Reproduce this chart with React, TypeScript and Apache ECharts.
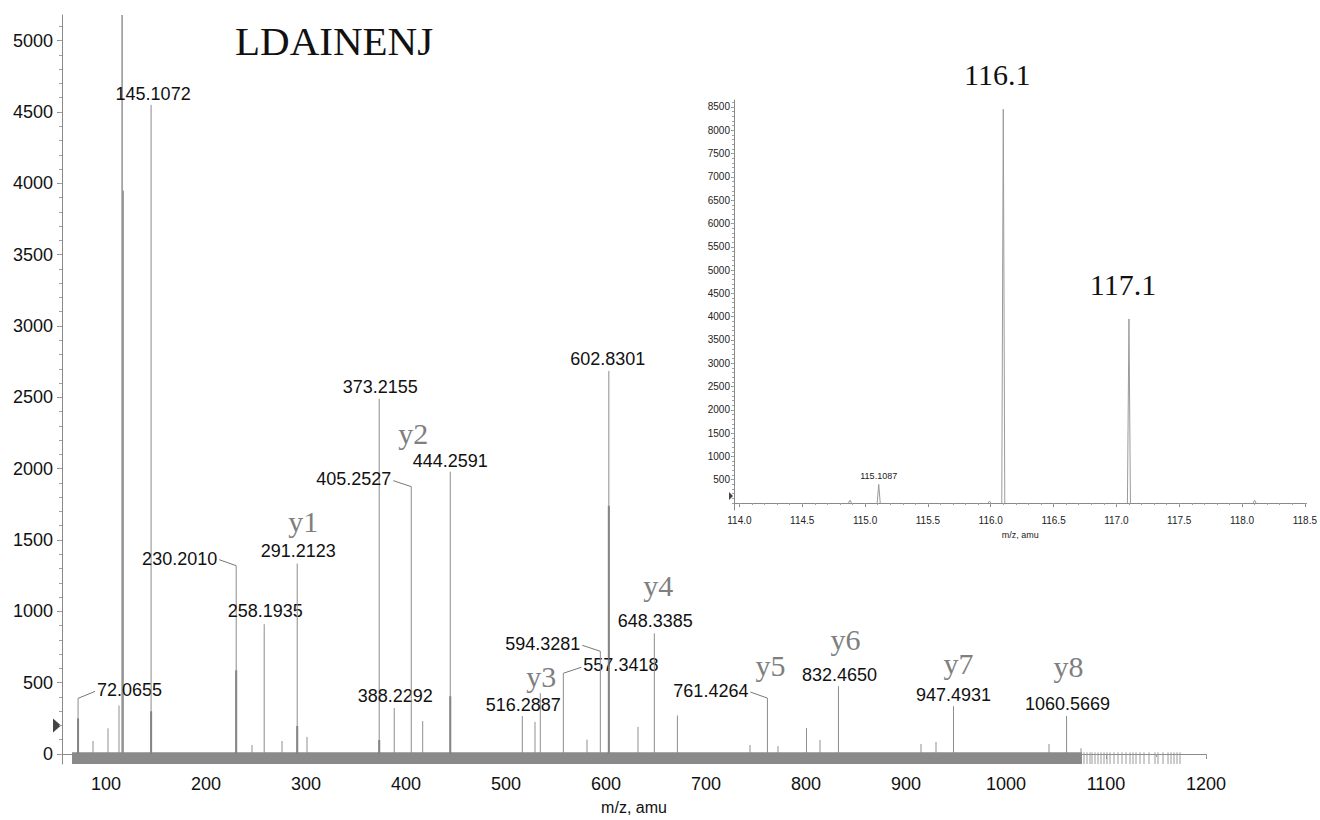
import React, { useEffect, useRef } from "react";
import * as echarts from "echarts";

const SANS = "'Liberation Sans', Arial, Helvetica, sans-serif";
const SERIF = "'Liberation Serif', 'Times New Roman', serif";

// ---- data -------------------------------------------------------------
const peptide = "LDAINENJ";

const mainXTicks = [100, 200, 300, 400, 500, 600, 700, 800, 900, 1000, 1100, 1200];
const mainYTicks = [0, 500, 1000, 1500, 2000, 2500, 3000, 3500, 4000, 4500, 5000];

// labelled fragment peaks (m/z, intensity in counts)
const labelledMz = [
  72.0655, 145.1072, 230.201, 258.1935, 291.2123, 373.2155, 388.2292, 405.2527, 444.2591,
  516.2887, 557.3418, 594.3281, 602.8301, 648.3385, 761.4264, 832.465, 947.4931, 1060.5669,
];
const labelledIntensity = [
  390, 4550, 1320, 910, 1335, 2490, 322, 1874, 1979, 266, 566, 720, 2685, 846, 392, 475, 335, 266,
];

// y-ion series assignments
const yIonNames = ["y1", "y2", "y3", "y4", "y5", "y6", "y7", "y8"];
const yIonMz = [291.2123, 405.2527, 557.3418, 648.3385, 761.4264, 832.465, 947.4931, 1060.5669];

// iTRAQ reporter ions
const reporterMz = [116.1, 117.1];
const reporterIntensity = [8450, 3950];

// unlabelled minor peaks
const minorMz = [87, 102, 113, 246, 276, 301, 416.7, 529, 534.3, 581, 632, 671.4, 744, 772, 800.5, 814, 915, 930, 1043, 1075];
const minorIntensity = [91, 180, 340, 63, 91, 120, 231, 225, 427, 100, 190, 270, 63, 55, 182, 98, 70, 84, 70, 40];

// darker centroid bodies under the profile apexes
const bodyMz = [72.0655, 145.1072, 230.201, 291.2123, 373.2155, 444.2591, 602.8301];
const bodyIntensity = [250, 300, 587, 196, 98, 405, 1740];

// baseline noise
const noiseBandMz = [66, 1076];
const noiseBandLevel = 12;
const sparseNoiseMz = [
  1078, 1081, 1084, 1086, 1089, 1092, 1095, 1098, 1101, 1104, 1108, 1112, 1116, 1120, 1124,
  1127, 1130, 1134, 1138, 1143, 1149, 1152, 1157, 1162, 1165, 1168, 1171, 1174,
];
const mainThreshold = 200;

// inset: reporter region
const insetXTicks = [114.0, 114.5, 115.0, 115.5, 116.0, 116.5, 117.0, 117.5, 118.0, 118.5];
const insetYTicks = [500, 1000, 1500, 2000, 2500, 3000, 3500, 4000, 4500, 5000, 5500, 6000, 6500, 7000, 7500, 8000, 8500];
const insetMinorMz = [114.88, 115.1087, 115.99, 118.1];
const insetMinorIntensity = [60, 400, 40, 60];
const insetThreshold = 150;

// ---- axis ranges --------------------------------------------------------
const MAIN_X_MIN = 56;
const MAIN_X_MAX = 1200;
const MAIN_Y_MIN = -70;
const MAIN_Y_MAX = 5180;
const INSET_X_MIN = 113.957;
const INSET_X_MAX = 118.513;
const INSET_Y_MIN = -150;
const INSET_Y_MAX = 8650;

const mainXMinorTicks = Array.from({ length: 23 }, (_, i) => 100 + i * 50);
const mainYMinorTicks = Array.from({ length: 52 }, (_, i) => i * 100);
const insetXMinorTicks = Array.from({ length: 46 }, (_, i) => Math.round((114 + i * 0.1) * 10) / 10);
const insetYMinorTicks = Array.from({ length: 87 }, (_, i) => i * 100);

// ---- label placement (pixel offsets from each peak apex) -------------
type Place = { dx: number; dy: number; align?: "left" | "center" | "right"; leader?: [number, number] };
const labelPlace: Place[] = [
  { dx: 19, dy: -8, align: "left", leader: [17, -7] }, // 72.0655
  { dx: 2, dy: -11 }, // 145.1072
  { dx: -19, dy: -7, align: "right", leader: [-17, -6] }, // 230.2010
  { dx: 1, dy: -13 }, // 258.1935
  { dx: 1, dy: -13 }, // 291.2123
  { dx: 1, dy: -12 }, // 373.2155
  { dx: 1, dy: -12 }, // 388.2292
  { dx: -20, dy: -8, align: "right", leader: [-18, -6] }, // 405.2527
  { dx: 0, dy: -11 }, // 444.2591
  { dx: 1, dy: -11 }, // 516.2887
  { dx: 20, dy: -8, align: "left", leader: [18, -6] }, // 557.3418
  { dx: -20, dy: -7, align: "right", leader: [-18, -6] }, // 594.3281
  { dx: -1, dy: -12 }, // 602.8301
  { dx: 1, dy: -12 }, // 648.3385
  { dx: -19, dy: -7, align: "right", leader: [-17, -6] }, // 761.4264
  { dx: 1, dy: -11 }, // 832.4650
  { dx: 0, dy: -11 }, // 947.4931
  { dx: 1, dy: -12 }, // 1060.5669
];
const ionPlace: [number, number][] = [
  [6, -42], [2, -53], [-22, 3], [4, -48], [3, -33], [7, -47], [5, -43], [2, -50],
];
const reporterPlace: [number, number][] = [[-6, -35], [-6, -34]];

// ---- renderers ----------------------------------------------------------
const textStyle = (text: string, font: string, fill: string, align: string) => ({
  text,
  font,
  fill,
  align,
  verticalAlign: "middle",
  textAlign: align,
  textVerticalAlign: "middle",
});

const stick = (color: string, width: number) => (params: any, api: any) => {
  const x = api.value(0);
  const top = api.coord([x, api.value(1)]);
  const bottom = api.coord([x, api.value(2)]);
  const y1 = Math.max(top[1], params.coordSys.y);
  return {
    type: "line",
    shape: { x1: top[0], y1, x2: bottom[0], y2: bottom[1] },
    style: { stroke: color, lineWidth: width },
  };
};

const renderBand = (params: any, api: any) => {
  const a = api.coord([api.value(0), api.value(2)]);
  const b = api.coord([api.value(1), api.value(3)]);
  return {
    type: "rect",
    shape: { x: a[0], y: b[1], width: b[0] - a[0], height: a[1] - b[1] },
    style: { fill: "#8a8a8a" },
  };
};

const renderLabelled = (params: any, api: any) => {
  const i = params.dataIndex;
  const x = api.value(0);
  const top = api.coord([x, api.value(1)]);
  const base = api.coord([x, 0]);
  const p = labelPlace[i];
  const children: any[] = [
    { type: "line", shape: { x1: top[0], y1: top[1], x2: base[0], y2: base[1] }, style: { stroke: "#8c8c8c", lineWidth: 1 } },
    {
      type: "text",
      x: top[0] + p.dx,
      y: top[1] + p.dy,
      style: textStyle(labelledMz[i].toFixed(4), `18px ${SANS}`, "#111", p.align || "center"),
    },
  ];
  if (p.leader) {
    children.push({
      type: "line",
      shape: { x1: top[0], y1: top[1], x2: top[0] + p.leader[0], y2: top[1] + p.leader[1] },
      style: { stroke: "#777", lineWidth: 1 },
    });
  }
  return { type: "group", children };
};

const renderIon = (params: any, api: any) => {
  const i = params.dataIndex;
  const top = api.coord([api.value(0), api.value(1)]);
  return {
    type: "text",
    x: top[0] + ionPlace[i][0],
    y: top[1] + ionPlace[i][1],
    style: textStyle(yIonNames[i], `30px ${SERIF}`, "#7f7f7f", "center"),
  };
};

const renderInsetPeak = (params: any, api: any) => {
  const x = api.value(0);
  const h = api.value(1);
  const w = 0.012;
  const l = api.coord([x - w, 0]);
  const t = api.coord([x, h]);
  const r = api.coord([x + w, 0]);
  return {
    type: "polyline",
    shape: { points: [l, t, r] },
    style: { stroke: "#9a9a9a", lineWidth: 1, fill: "none" },
  };
};

const renderReporterLabel = (params: any, api: any) => {
  const i = params.dataIndex;
  const top = api.coord([api.value(0), api.value(1)]);
  return {
    type: "text",
    x: top[0] + reporterPlace[i][0],
    y: top[1] + reporterPlace[i][1],
    style: textStyle(reporterMz[i].toFixed(1), `30px ${SERIF}`, "#111", "center"),
  };
};

const renderInsetMinorLabel = (params: any, api: any) => {
  const top = api.coord([api.value(0), api.value(1)]);
  return {
    type: "text",
    x: top[0],
    y: top[1] - 8,
    style: textStyle(insetMinorMz[1].toFixed(4), `9px ${SANS}`, "#222", "center"),
  };
};

// ---- option ---------------------------------------------------------------
const axisGray = "#8a8a8a";
const plain = (v: number) => String(v);

const minorAxis = (gridIndex: number, min: number, max: number, position: string, ticks: number[], length: number) => ({
  gridIndex,
  type: "value",
  position,
  offset: 0,
  min,
  max,
  axisLine: { show: false },
  axisTick: { show: true, customValues: ticks, length, lineStyle: { color: "#a0a0a0" } },
  axisLabel: { show: false },
  splitLine: { show: false },
});

const buildOption = () => {
  const ionIntensity = yIonMz.map((mz) => labelledIntensity[labelledMz.indexOf(mz)]);
  return {
    animation: false,
    backgroundColor: "#ffffff",
    grid: [
      { left: 62, right: 114, top: 15, bottom: 54 },
      { left: 734, right: 12, top: 100, bottom: 310 },
    ],
    xAxis: [
      {
        gridIndex: 0,
        type: "value",
        position: "bottom",
        min: MAIN_X_MIN,
        max: MAIN_X_MAX,
        name: "m/z, amu",
        nameLocation: "middle",
        nameGap: 35,
        nameTextStyle: { fontFamily: SANS, fontSize: 16, color: "#111" },
        axisLine: { lineStyle: { color: axisGray } },
        axisTick: { customValues: mainXTicks, length: 5, lineStyle: { color: axisGray } },
        axisLabel: { customValues: mainXTicks, formatter: plain, fontFamily: SANS, fontSize: 18, color: "#111", margin: 11 },
        splitLine: { show: false },
      },
      minorAxis(0, MAIN_X_MIN, MAIN_X_MAX, "bottom", mainXMinorTicks, 3),
      {
        gridIndex: 1,
        type: "value",
        position: "bottom",
        min: INSET_X_MIN,
        max: INSET_X_MAX,
        name: "m/z, amu",
        nameLocation: "middle",
        nameGap: 20,
        nameTextStyle: { fontFamily: SANS, fontSize: 9, color: "#222" },
        axisLine: { lineStyle: { color: axisGray } },
        axisTick: { customValues: insetXTicks, length: 4, lineStyle: { color: axisGray } },
        axisLabel: {
          customValues: insetXTicks,
          formatter: (v: number) => v.toFixed(1),
          fontFamily: SANS,
          fontSize: 10,
          color: "#222",
          margin: 5,
        },
        splitLine: { show: false },
      },
      minorAxis(1, INSET_X_MIN, INSET_X_MAX, "bottom", insetXMinorTicks, 2),
    ],
    yAxis: [
      {
        gridIndex: 0,
        type: "value",
        position: "left",
        min: MAIN_Y_MIN,
        max: MAIN_Y_MAX,
        axisLine: { show: true, lineStyle: { color: axisGray } },
        axisTick: { show: true, customValues: mainYTicks, length: 5, lineStyle: { color: axisGray } },
        axisLabel: { customValues: mainYTicks, formatter: plain, fontFamily: SANS, fontSize: 18, color: "#111", margin: 9 },
        splitLine: { show: false },
      },
      minorAxis(0, MAIN_Y_MIN, MAIN_Y_MAX, "left", mainYMinorTicks, 3),
      {
        gridIndex: 1,
        type: "value",
        position: "left",
        min: INSET_Y_MIN,
        max: INSET_Y_MAX,
        axisLine: { show: true, lineStyle: { color: axisGray } },
        axisTick: { show: true, customValues: insetYTicks, length: 3, lineStyle: { color: axisGray } },
        axisLabel: { customValues: insetYTicks, formatter: plain, fontFamily: SANS, fontSize: 10, color: "#222", margin: 4 },
        splitLine: { show: false },
      },
      minorAxis(1, INSET_Y_MIN, INSET_Y_MAX, "left", insetYMinorTicks, 2),
    ],
    series: [
      {
        type: "custom",
        name: "baseline noise",
        xAxisIndex: 0,
        yAxisIndex: 0,
        silent: true,
        renderItem: renderBand,
        data: [[noiseBandMz[0], noiseBandMz[1], MAIN_Y_MIN, noiseBandLevel]],
      },
      {
        type: "custom",
        name: "sparse noise",
        xAxisIndex: 0,
        yAxisIndex: 0,
        silent: true,
        renderItem: stick("#9a9a9a", 1),
        data: sparseNoiseMz.map((mz) => [mz, noiseBandLevel, MAIN_Y_MIN]),
      },
      {
        type: "custom",
        name: "minor peaks",
        xAxisIndex: 0,
        yAxisIndex: 0,
        silent: true,
        renderItem: stick("#8f8f8f", 1),
        data: minorMz.map((mz, i) => [mz, minorIntensity[i], 0]),
      },
      {
        type: "custom",
        name: "reporter ions",
        xAxisIndex: 0,
        yAxisIndex: 0,
        silent: true,
        renderItem: stick("#8a8a8a", 1.4),
        data: reporterMz.map((mz, i) => [mz, reporterIntensity[i], 0]),
      },
      {
        type: "custom",
        name: "peak bodies",
        xAxisIndex: 0,
        yAxisIndex: 0,
        silent: true,
        renderItem: stick("#7a7a7a", 2),
        data: bodyMz.map((mz, i) => [mz, bodyIntensity[i], 0]),
      },
      {
        type: "custom",
        name: "labelled peaks",
        xAxisIndex: 0,
        yAxisIndex: 0,
        silent: true,
        renderItem: renderLabelled,
        data: labelledMz.map((mz, i) => [mz, labelledIntensity[i]]),
      },
      {
        type: "custom",
        name: "y ions",
        xAxisIndex: 0,
        yAxisIndex: 0,
        silent: true,
        renderItem: renderIon,
        data: yIonMz.map((mz, i) => [mz, ionIntensity[i]]),
      },
      {
        type: "custom",
        name: "inset peaks",
        xAxisIndex: 2,
        yAxisIndex: 2,
        silent: true,
        renderItem: renderInsetPeak,
        data: [
          ...insetMinorMz.map((mz, i) => [mz, insetMinorIntensity[i]]),
          ...reporterMz.map((mz, i) => [mz, reporterIntensity[i]]),
        ],
      },
      {
        type: "custom",
        name: "reporter labels",
        xAxisIndex: 2,
        yAxisIndex: 2,
        silent: true,
        renderItem: renderReporterLabel,
        data: reporterMz.map((mz, i) => [mz, reporterIntensity[i]]),
      },
      {
        type: "custom",
        name: "inset minor label",
        xAxisIndex: 2,
        yAxisIndex: 2,
        silent: true,
        renderItem: renderInsetMinorLabel,
        data: [[insetMinorMz[1], insetMinorIntensity[1]]],
      },
    ],
  };
};

export default function App() {
  const ref = useRef<HTMLDivElement>(null);
  useEffect(() => {
    document.body.style.margin = "0";
    const chart = echarts.init(ref.current!, null, { renderer: "svg" });
    chart.setOption(buildOption());
    const m = chart.convertToPixel({ seriesIndex: 0 }, [MAIN_X_MIN, mainThreshold]) as number[];
    const n = chart.convertToPixel({ seriesIndex: 7 }, [INSET_X_MIN, insetThreshold]) as number[];
    chart.setOption({
      graphic: [
        {
          type: "text",
          left: 235,
          top: 20,
          style: { text: peptide, font: `41px ${SERIF}`, fill: "#111" },
        },
        {
          type: "polygon",
          shape: { points: [[m[0] - 9, m[1] - 7], [m[0] - 1, m[1]], [m[0] - 9, m[1] + 7]] },
          style: { fill: "#444" },
        },
        {
          type: "polygon",
          shape: { points: [[n[0] - 5, n[1] - 4], [n[0] - 1, n[1]], [n[0] - 5, n[1] + 4]] },
          style: { fill: "#444" },
        },
      ],
    });
    return () => chart.dispose();
  }, []);
  return <div ref={ref} style={{ width: 1320, height: 820 }} />;
}
